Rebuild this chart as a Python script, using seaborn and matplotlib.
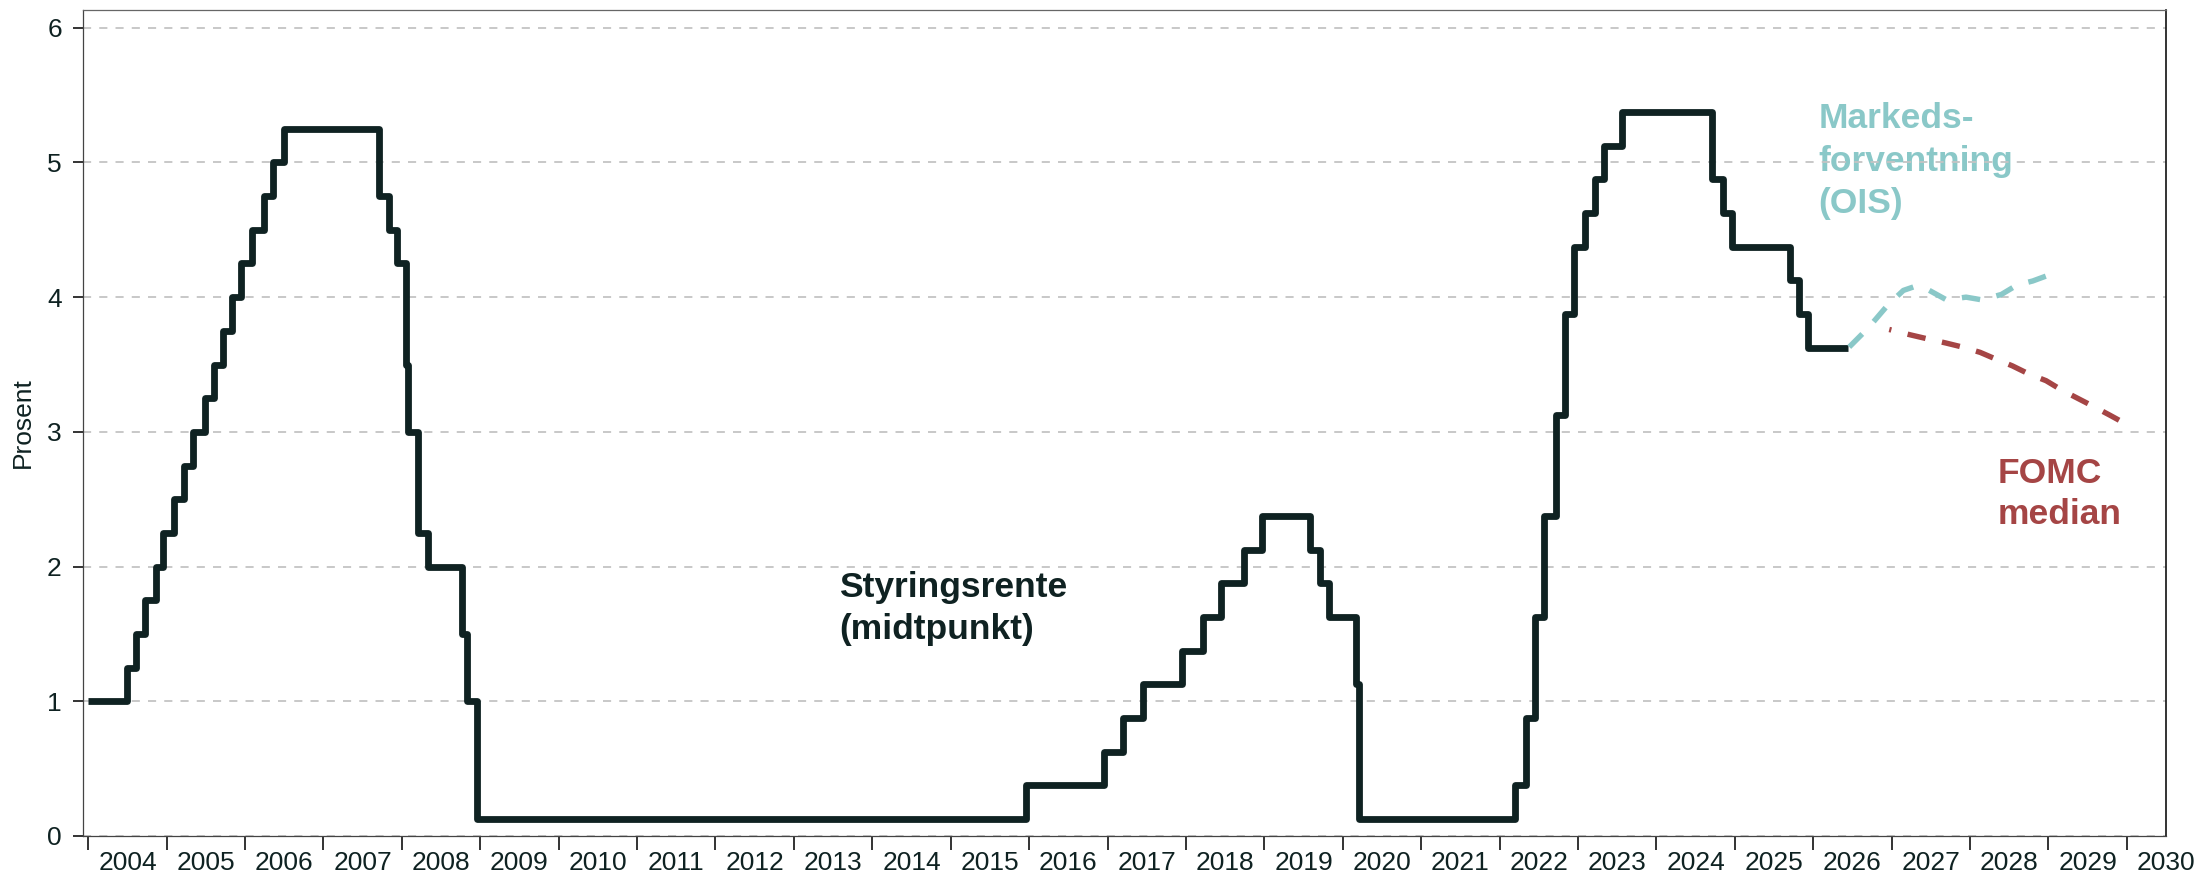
import pandas as pd
import numpy as np
import matplotlib
matplotlib.use("Agg")
import matplotlib.pyplot as plt
import seaborn as sns

sns.set_theme(style="white")
plt.rcParams["font.family"] = ["Liberation Sans", "DejaVu Sans"]

# Styringsrente (midtpunkt av målintervallet), dato for endring og nivå
rate_dates = [
    "2004-01-01", "2004-06-30", "2004-08-10", "2004-09-21", "2004-11-10", "2004-12-14",
    "2005-02-02", "2005-03-22", "2005-05-03", "2005-06-30", "2005-08-09", "2005-09-20",
    "2005-11-01", "2005-12-13", "2006-01-31", "2006-03-28", "2006-05-10", "2006-06-29",
    "2007-09-18", "2007-10-31", "2007-12-11", "2008-01-22", "2008-01-30", "2008-03-18",
    "2008-04-30", "2008-10-08", "2008-10-29", "2008-12-16", "2015-12-16", "2016-12-14",
    "2017-03-15", "2017-06-14", "2017-12-13", "2018-03-21", "2018-06-13", "2018-09-26",
    "2018-12-19", "2019-07-31", "2019-09-18", "2019-10-30", "2020-03-03", "2020-03-15",
    "2022-03-16", "2022-05-04", "2022-06-15", "2022-07-27", "2022-09-21", "2022-11-02",
    "2022-12-14", "2023-02-01", "2023-03-22", "2023-05-03", "2023-07-26", "2024-09-18",
    "2024-11-07", "2024-12-18", "2025-09-17", "2025-10-29", "2025-12-10", "2026-06-10",
]
rate_values = [
    1.00, 1.25, 1.50, 1.75, 2.00, 2.25,
    2.50, 2.75, 3.00, 3.25, 3.50, 3.75,
    4.00, 4.25, 4.50, 4.75, 5.00, 5.25,
    4.75, 4.50, 4.25, 3.50, 3.00, 2.25,
    2.00, 1.50, 1.00, 0.125, 0.375, 0.625,
    0.875, 1.125, 1.375, 1.625, 1.875, 2.125,
    2.375, 2.125, 1.875, 1.625, 1.125, 0.125,
    0.375, 0.875, 1.625, 2.375, 3.125, 3.875,
    4.375, 4.625, 4.875, 5.125, 5.375, 4.875,
    4.625, 4.375, 4.125, 3.875, 3.625, 3.625,
]

# Markedsforventning (OIS)
ois_years = [2026.46, 2026.70, 2026.95, 2027.15, 2027.30, 2027.45, 2027.70,
             2027.95, 2028.15, 2028.40, 2028.60, 2028.80, 2029.01]
ois_values = [3.63, 3.77, 3.94, 4.05, 4.08, 4.06, 3.98,
              4.00, 3.98, 4.02, 4.09, 4.12, 4.165]

# FOMC median
fomc_years = [2026.97, 2027.24, 2027.46, 2027.69, 2027.90, 2028.13, 2028.33,
              2028.54, 2028.75, 2028.97, 2029.17, 2029.37, 2029.57, 2029.78, 2030.0]
fomc_values = [3.76, 3.72, 3.69, 3.66, 3.63, 3.59, 3.54,
               3.49, 3.43, 3.38, 3.31, 3.25, 3.19, 3.125, 3.055]

years = list(range(2004, 2031))

# etiketter: (tekstlinjer, x, grunnlinje for hver linje)
label_rate = (["Styringsrente", "(midtpunkt)"], 2013.58, [1.774, 1.462])
label_ois = (["Markeds-", "forventning", "(OIS)"], 2026.07, [5.254, 4.937, 4.621])
label_fomc = (["FOMC", "median"], 2028.35, [2.623, 2.313])

dark = "#0f2222"
teal = "#8ac8c8"
red = "#a54545"


def to_decimal_year(dates):
    d = pd.to_datetime(pd.Series(dates))
    days = np.where(d.dt.is_leap_year, 366, 365)
    return d.dt.year + (d.dt.dayofyear - 1) / days


df_rate = pd.DataFrame({"year": to_decimal_year(rate_dates), "rate": rate_values})
df_ois = pd.DataFrame({"year": ois_years, "rate": ois_values})
df_fomc = pd.DataFrame({"year": fomc_years, "rate": fomc_values})

fig = plt.figure(figsize=(21.99, 8.81), dpi=100)
ax = fig.add_axes([0.0376, 0.0511, 0.9474, 0.9376])

sns.lineplot(data=df_rate, x="year", y="rate", ax=ax, color=dark, lw=4.9,
             drawstyle="steps-post", estimator=None, errorbar=None,
             solid_joinstyle="round", solid_capstyle="butt", zorder=3)
sns.lineplot(data=df_ois, x="year", y="rate", ax=ax, color=teal, lw=3.9,
             linestyle=(0, (3.4, 3.1)), dash_capstyle="butt",
             estimator=None, errorbar=None, zorder=3)
sns.lineplot(data=df_fomc, x="year", y="rate", ax=ax, color=red, lw=3.9,
             linestyle=(3.0, (3.4, 3.1)), dash_capstyle="butt",
             estimator=None, errorbar=None, zorder=3)

ax.set_xlim(2003.929, 2030.50)
ax.set_ylim(0, 6.132)

# ticks at year boundaries, labels mid-year
ax.set_xticks(years)
ax.set_xticklabels([])
ax.set_xticks([y + 0.5 for y in years], minor=True)
ax.set_xticklabels([str(y) for y in years], minor=True)
ax.tick_params(axis="x", which="major", length=10, width=1.4, color="#333333",
               direction="out", bottom=True)
ax.tick_params(axis="x", which="minor", length=0, labelsize=19, pad=11,
               labelcolor=dark, bottom=True)

ax.set_yticks(range(0, 7))
ax.tick_params(axis="y", which="major", length=7, width=1.4, color="#333333",
               direction="out", labelsize=19, pad=8, labelcolor=dark, left=True)

ax.yaxis.grid(True, color="#c4c4c4", linestyle=(0, (4.5, 4.5)), lw=1.3)
ax.xaxis.grid(False)
ax.set_axisbelow(True)

ax.set_xlabel("")
ax.set_ylabel("Prosent", fontsize=19, color=dark)
ax.yaxis.set_label_coords(-0.0229, 0.5)

for side in ["left", "bottom"]:
    ax.spines[side].set_color("#444444")
    ax.spines[side].set_linewidth(0.9)
ax.spines["top"].set_color("#666666")
ax.spines["top"].set_linewidth(0.9)
ax.spines["right"].set_color("#111111")
ax.spines["right"].set_linewidth(1.2)

# tekst under rutenettet, som i originalen
for (lines, x, baselines), col in [(label_rate, dark), (label_ois, teal), (label_fomc, red)]:
    for line, yb in zip(lines, baselines):
        ax.text(x, yb, line, fontsize=25.5, fontweight="bold", color=col,
                ha="left", va="baseline", zorder=0.4)

fig.savefig("out.png", dpi=100)
